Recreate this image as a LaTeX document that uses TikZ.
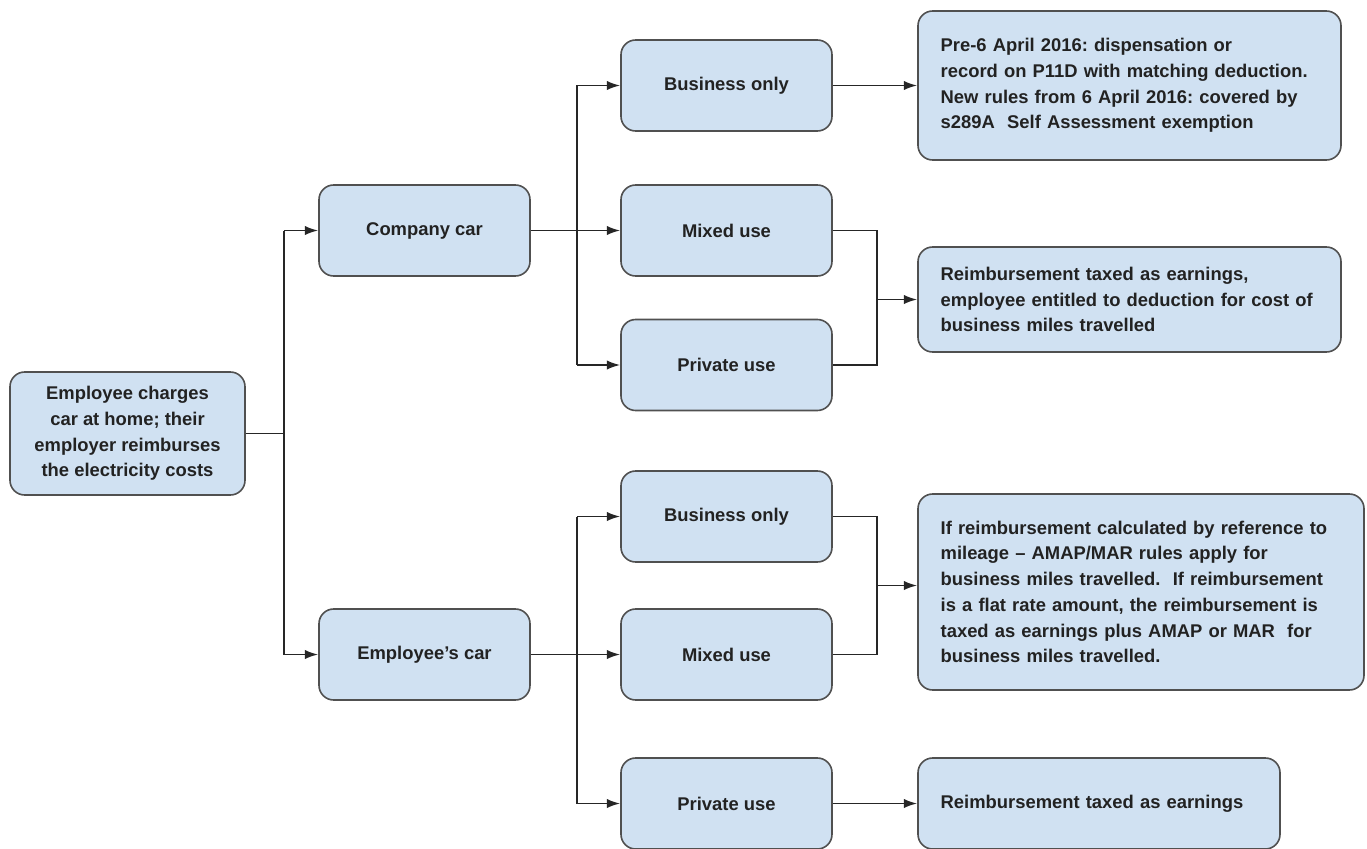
\documentclass[tikz,border=0pt]{standalone}
\usepackage{fontspec}
\setmainfont{Liberation Sans}
\usetikzlibrary{arrows.meta,calc}
\definecolor{boxfill}{HTML}{D0E1F2}
\definecolor{boxline}{HTML}{505050}
\definecolor{txt}{HTML}{222222}
\tikzset{
  box/.style={draw=boxline, line width=1.2pt, fill=boxfill, rounded corners=11pt,
    text=txt, font=\bfseries\fontsize{13.8}{19.3}\selectfont, align=center, inner sep=0pt},
  sbox/.style={box, minimum width=158.25pt, minimum height=68.25pt},
  wbox/.style={box, align=left, inner xsep=17pt, inner ysep=0pt},
  conn/.style={line width=1.4pt, draw=black!85, line join=miter},
  arr/.style={conn, -{Latex[length=10pt,width=7pt]}}
}
\begin{document}
\frenchspacing
\begin{tikzpicture}[x=0.75pt,y=-0.75pt]
\useasboundingbox (0,0) rectangle (1367,849);
% nodes
\node[box, minimum width=176.25pt, minimum height=92.25pt] (root) at (127.5,433.5)
  {Employee charges\\car at home; their\\employer reimburses\\the electricity costs};
\node[sbox] (cc) at (424.5,230.5) {Company car};
\node[sbox] (ec) at (424.5,654.5) {Employee's car};
\node[sbox] (b1) at (726.5,85.5) {Business only};
\node[sbox] (m1) at (726.5,230.5) {Mixed use};
\node[sbox] (p1) at (726.5,365) {Private use};
\node[sbox] (b2) at (726.5,516.5) {Business only};
\node[sbox] (m2) at (726.5,654.5) {Mixed use};
\node[sbox] (p2) at (726.5,803.5) {Private use};
\node[wbox, text width=283.25pt, minimum height=111.75pt] (r1) at (1129.5,85.5)
  {Pre-6 April 2016: dispensation or\\record on P11D with matching deduction.\\New rules from 6 April 2016: covered by\\s289A\ \ Self Assessment exemption};
\node[wbox, text width=283.25pt, minimum height=78.75pt] (r2) at (1129.5,299.5)
  {Reimbursement taxed as earnings,\\employee entitled to deduction for cost of\\business miles travelled};
\node[wbox, text width=300.5pt, minimum height=147pt] (r3) at (1141,592)
  {If reimbursement calculated by reference to\\mileage -- AMAP/MAR rules apply for\\business miles travelled.\ \ If reimbursement\\is a flat rate amount, the reimbursement is\\taxed as earnings plus AMAP or MAR\ \ for\\business miles travelled.};
\node[wbox, text width=237.5pt, minimum height=68.25pt] (r4) at (1099,803.5)
  {Reimbursement taxed as earnings};
% junction coordinates
\coordinate (j0) at ($(root.east)+(38,0)$);
\coordinate (j1) at ($(cc.east)+(46,0)$);
\coordinate (j2) at ($(ec.east)+(46,0)$);
\coordinate (k1) at ($(m1.east)+(44,0)$);
\coordinate (k2) at ($(b2.east)+(44,0)$);
% root branches
\draw[conn] (root.east) -- (j0);
\draw[conn] (j0 |- cc.west) -- (j0 |- ec.west);
\draw[arr] (j0 |- cc.west) -- (cc.west);
\draw[arr] (j0 |- ec.west) -- (ec.west);
% company car branches
\draw[conn] (cc.east) -- (j1);
\draw[conn] (j1 |- b1.west) -- (j1 |- p1.west);
\draw[arr] (j1 |- b1.west) -- (b1.west);
\draw[arr] (j1) -- (m1.west);
\draw[arr] (j1 |- p1.west) -- (p1.west);
% employee car branches
\draw[conn] (ec.east) -- (j2);
\draw[conn] (j2 |- b2.west) -- (j2 |- p2.west);
\draw[arr] (j2 |- b2.west) -- (b2.west);
\draw[arr] (j2) -- (m2.west);
\draw[arr] (j2 |- p2.west) -- (p2.west);
% outcomes
\draw[arr] (b1.east) -- (r1.west);
\draw[conn] (m1.east) -- (k1) -- (k1 |- p1.east) -- (p1.east);
\draw[arr] (k1 |- r2.west) -- (r2.west);
\draw[conn] (b2.east) -- (k2) -- (k2 |- m2.east) -- (m2.east);
\coordinate (k2m) at ($(k2)!0.5!(k2 |- m2.east)$);
\draw[arr] (k2m) -- (k2m -| r3.west);
\draw[arr] (p2.east) -- (r4.west);
\end{tikzpicture}
\end{document}
